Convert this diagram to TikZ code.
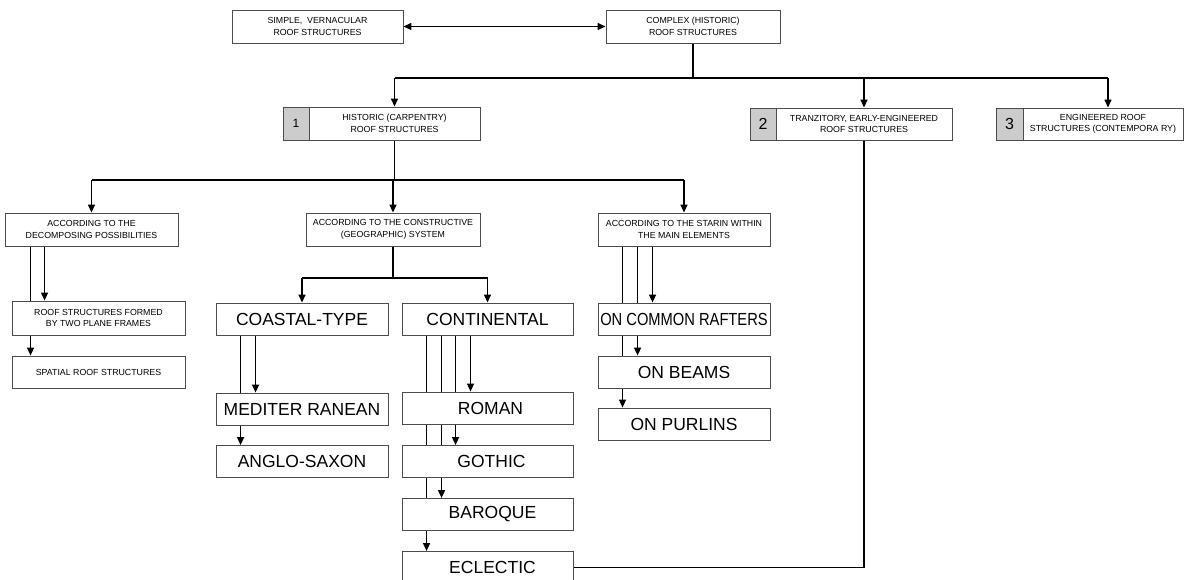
\documentclass[tikz,border=0pt]{standalone}
\usepackage{fontspec}
\setmainfont{Liberation Sans}
\usetikzlibrary{arrows.meta,backgrounds}
\newcommand\smalltxt{\fontsize{8.8}{11.5}\selectfont}
\newcommand\bigtxt{\fontsize{17.5}{20}\selectfont}
\begin{document}
\begin{tikzpicture}[x=1pt,y=-1pt,
  box/.style={draw=black!70, line width=0.9pt, fill=white, inner sep=1pt,
    align=center, font=\smalltxt, minimum height=33pt},
  bigbox/.style={box, font=\bigtxt, minimum height=32pt},
  numcell/.style={box, fill=gray!40, font=\fontsize{12}{14}\selectfont, inner sep=0pt},
  conn/.style={line width=1.5pt, black},
  arr/.style={conn, -{Triangle[length=8pt,width=7pt]}},
  darr/.style={conn, {Triangle[length=8pt,width=7pt]}-{Triangle[length=8pt,width=7pt]}}
]
\useasboundingbox (0,0) rectangle (1187,580);
\clip (0,0) rectangle (1187,580);

% top level
\node[box, minimum width=171pt] (simple) at (317.5,26.5) {SIMPLE,\ \ VERNACULAR\\ROOF STRUCTURES};
\node[box, minimum width=174pt] (complex) at (693,26.5) {COMPLEX\ (HISTORIC)\\ROOF STRUCTURES};

% numbered categories
\node[box, minimum width=171pt] (hist) at (394.5,123.5) {HISTORIC (CARPENTRY)\\ROOF STRUCTURES};
\node[numcell, minimum width=26pt, minimum height=33pt] (histnum) at (296,123.5) {1};
\node[box, minimum width=176pt, minimum height=32pt] (tranz) at (864,124) {TRANZITORY, EARLY-ENGINEERED\\ROOF STRUCTURES};
\node[numcell, minimum width=26pt, minimum height=32pt, font=\fontsize{16}{18}\selectfont] (tranznum) at (763,124) {2};
\node[box, minimum width=160pt, minimum height=32pt] (eng) at (1103,124) {ENGINEERED ROOF\\STRUCTURES (CONTEMPORA RY)};
\node[numcell, minimum width=27pt, minimum height=32pt, font=\fontsize{16}{18}\selectfont] (engnum) at (1009.5,124) {3};

% classification criteria
\node[box, minimum width=173pt] (decomp) at (91.5,229.5) {ACCORDING TO THE\\DECOMPOSING POSSIBILITIES};
\node[box, minimum width=174pt] (constr) at (393,229.5) {ACCORDING TO THE CONSTRUCTIVE\\(GEOGRAPHIC) SYSTEM};
\node[box, minimum width=172pt] (starin) at (684,229.5) {ACCORDING TO THE STARIN WITHIN\\THE MAIN ELEMENTS};

% decomposing possibilities
\node[box, minimum width=173pt, minimum height=34pt] (formed) at (98.5,318) {ROOF STRUCTURES FORMED\\BY TWO PLANE FRAMES};
\node[box, minimum width=173pt, minimum height=32pt] (spatial) at (98.5,372) {SPATIAL ROOF STRUCTURES};

% constructive system
\node[bigbox, minimum width=172pt] (coastal) at (302,319) {COASTAL-TYPE};
\node[bigbox, minimum width=171pt] (contin) at (487.5,319) {CONTINENTAL};
\node[bigbox, minimum width=172pt] (medit) at (302,409) {MEDITER RANEAN};
\node[bigbox, minimum width=172pt] (anglo) at (302,461.5) {ANGLO-SAXON};
\node[bigbox, minimum width=171pt] (roman) at (487.5,408) {\hspace{6pt}ROMAN};
\node[bigbox, minimum width=171pt] (gothic) at (487.5,461.5) {\hspace{8pt}GOTHIC};
\node[bigbox, minimum width=171pt] (baroque) at (487.5,514.5) {\hspace{10pt}BAROQUE};
\node[bigbox, minimum width=171pt] (eclectic) at (487.5,567.5) {\hspace{10pt}ECLECTIC};

% strain within the main elements
\node[bigbox, minimum width=172pt] (rafters) at (684,319) {\scalebox{0.84}[1]{ON COMMON RAFTERS}};
\node[bigbox, minimum width=172pt] (beams) at (684,372) {ON BEAMS};
\node[bigbox, minimum width=172pt] (purlins) at (684,424) {ON PURLINS};

\begin{scope}[on background layer]
  \fill[white] (0,0) rectangle (1187,580);

  % bus lines
  \coordinate (bus1) at (0,78);
  \coordinate (bus2) at (0,180);
  \coordinate (bus3) at (0,278);

  \draw[darr] (simple.east) -- (complex.west);

  \draw[conn] (complex.south) -- (complex.south |- bus1);
  \draw[conn] (hist.north |- bus1) -- ([xshift=5pt]eng.north |- bus1);
  \draw[arr] (hist.north |- bus1) -- (hist.north);
  \draw[arr] (tranz.north |- bus1) -- (tranz.north);
  \draw[arr] ([xshift=5pt]eng.north |- bus1) -- ([xshift=5pt]eng.north);

  \draw[conn] (hist.south) -- (hist.south |- bus2);
  \draw[conn] (decomp.north |- bus2) -- (starin.north |- bus2);
  \draw[arr] (decomp.north |- bus2) -- (decomp.north);
  \draw[arr] (constr.north |- bus2) -- (constr.north);
  \draw[arr] (starin.north |- bus2) -- (starin.north);

  \draw[arr] ([xshift=26pt]decomp.south west) -- ([xshift=26pt]decomp.south west |- spatial.north);
  \draw[arr] ([xshift=40pt]decomp.south west) -- ([xshift=40pt]decomp.south west |- formed.north);

  \draw[conn] (constr.south) -- (constr.south |- bus3);
  \draw[conn] (coastal.north |- bus3) -- (contin.north |- bus3);
  \draw[arr] (coastal.north |- bus3) -- (coastal.north);
  \draw[arr] (contin.north |- bus3) -- (contin.north);

  \draw[arr] ([xshift=25pt]coastal.south west) -- ([xshift=25pt]coastal.south west |- anglo.north);
  \draw[arr] ([xshift=40pt]coastal.south west) -- ([xshift=40pt]coastal.south west |- medit.north);

  \draw[arr] ([xshift=25pt]contin.south west) -- ([xshift=25pt]contin.south west |- eclectic.north);
  \draw[arr] ([xshift=40pt]contin.south west) -- ([xshift=40pt]contin.south west |- baroque.north);
  \draw[arr] ([xshift=54pt]contin.south west) -- ([xshift=54pt]contin.south west |- gothic.north);
  \draw[arr] ([xshift=69pt]contin.south west) -- ([xshift=69pt]contin.south west |- roman.north);

  \draw[arr] ([xshift=25pt]starin.south west) -- ([xshift=25pt]starin.south west |- purlins.north);
  \draw[arr] ([xshift=40pt]starin.south west) -- ([xshift=40pt]starin.south west |- beams.north);
  \draw[arr] ([xshift=55pt]starin.south west) -- ([xshift=55pt]starin.south west |- rafters.north);

  \draw[conn] (tranz.south) |- (eclectic.east);
\end{scope}
\end{tikzpicture}
\end{document}
